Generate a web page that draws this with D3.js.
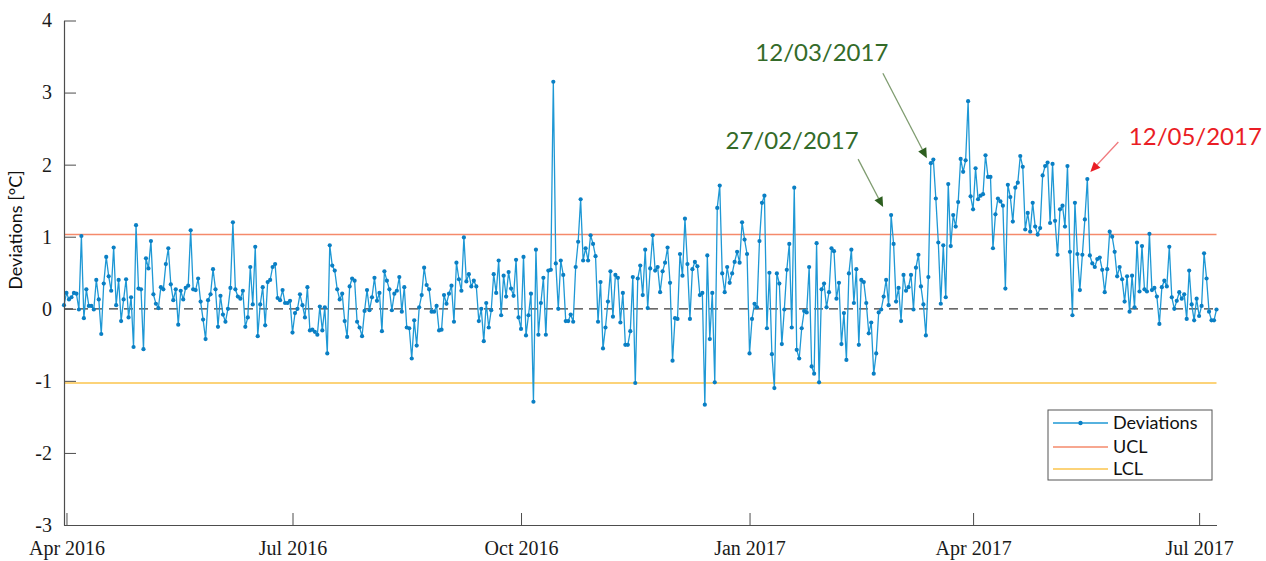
<!DOCTYPE html>
<html>
<head>
<meta charset="utf-8">
<script src="https://cdn.jsdelivr.net/npm/d3@7"></script>
<style>
  body { margin: 0; background: #fff; }
  #chart svg { display: block; }
</style>
</head>
<body>
<div id="chart"></div>
<script>
// daily deviations, first value on 31 Mar 2016
const startDate = new Date(2016, 2, 31);

const seg1 = [
  0.05,0.22,0.13,0.16,0.22,0.21,-0.01,1.01,-0.13,0.27,
  0.04,0.04,-0.01,0.4,0.13,-0.35,0.35,0.72,0.45,0.25,
  0.85,0.05,0.4,-0.17,0.13,0.41,-0.12,0.16,-0.53,1.16,
  0.28,0.27,-0.56,0.7,0.56,0.94,0.2,0.07,0.01,0.3,
  0.27,0.62,0.84,0.34,0.12,0.27,-0.22,0.25,0.13,0.29,
  0.32,1.09,0.27,0.26,0.42,0.1,-0.15,-0.42,0.12,0.2,
  0.55,0.27,-0.25,0.18,-0.08,-0.18,0.0,0.29,1.2,0.27,
  0.17,0.14,0.25,-0.25,-0.12,0.58,0.06,0.86,-0.38,0.06,
  0.3,-0.23,0.37,0.4,0.58,0.62,0.15,0.12,0.26,0.08,
  0.08,0.11,-0.33,-0.06,0.0,0.2,0.05,-0.12,0.3,-0.3,
  -0.29,-0.32,-0.36,0.03,-0.3,0.02,-0.62,0.88,0.6,0.53,
  0.27,0.13
];
const seg2 = [
  0.21,-0.17,-0.39,0.31,0.42,0.39,-0.18,-0.26,-0.38,-0.03,
  0.26,-0.02,0.16,0.43,0.11,0.22,-0.31,0.52,0.39,0.27,
  -0.02,0.21,0.25,0.44,-0.04,0.3,-0.26,-0.27,-0.69,-0.16,
  -0.51,0.02,0.19,0.57,0.33,0.27,-0.04,-0.04,0.04,-0.3,
  -0.29,0.19,0.07,0.21,0.32,-0.18,0.64,0.41,0.25,0.99,
  0.38,0.48,0.31,0.39,0.31,-0.17,0,-0.45,0.08,-0.26,
  -0.02,0.48,0.22,0.67,-0.09,0.46,0.17,0.51,0.28,0.18,
  0.68,-0.12,-0.28,0.72,-0.37,-0.09,0.21,-1.29
];
const seg3 = [
  0.82,-0.36,0.08,0.43,-0.36,0.53,0.54,3.15,0.63,0,
  0.67,0.47,-0.17,-0.17,-0.08,-0.18,0.58,0.93,1.52,0.67,
  0.84,0.67,1.02,0.9,0.73,-0.18,0.37,-0.55,-0.26,0.1,
  0.52,-0.11,0.47,0.43,-0.19,0.22,-0.5,-0.5,-0.31,0.44,
  -1.03,0.42,0.6,0.19,0.82,0.01,0.56,1.02,0.53,0.58,
  0.23,0.52,0.64,0.85,0.36,-0.72,-0.13,-0.14,0.76,0.46,
  1.25,0.62,-0.14,0.55,0.65,0.59,0.19,0.22,-1.33,0.74,
  -0.42,0.22,-1.02,1.4,1.71,0.49,0.23,0.58,0.36,0.49,
  0.65,0.79,0.64,1.2,0.96,0.76,-0.62,-0.14,0.07,0.02,
  0.94,1.47,1.57,-0.27,0.5,-0.63,-1.1,0.49,0.35,-0.49,
  -0.01,0.54,0.9,-0.26,1.68,-0.57,-0.69
];
const seg4 = [
  -0.27,-0.03,-0.05,0.58,-0.8,-0.9,0.91,-1.02,0.27,0.35,
  0.02,0.23,0.84,0.8,0.14,0.36,-0.49,-0.06,-0.71,0.49,
  0.82,0.08,0.55,-0.5,0.4,0.37,0.08,-0.34,-0.19,-0.9,
  -0.62,-0.05,-0.01,0.17,0.4,0.05,1.3,0.9,0.1,0.29,
  -0.17,0.47,0.25,0.3,0.47,-0.01,0.57,0.75,0.31,0.06,
  -0.37,0.44,2.02,2.07,1.53,0.92,0.07,0.88,0.16,1.73,
  0.87,1.3,1.14,1.48,2.08,1.9,2.06,2.88
];
const seg5 = [
  1.56,1.38,1.95,1.52,1.57,1.59,2.13,1.83,1.83,0.84,
  1.31,1.53,1.49,1.43,0.28,1.72,1.55,1.21,1.68,1.75,
  2.12,1.97,1.1,1.33,1.07,1.47,1.14,1.03,1.12,1.85,
  1.98,2.03,1.19,2.01,1.22,0.75,1.38,1.43,1.14,1.98,
  0.79,-0.09,1.47,0.76,0.26,0.75,1.24,1.8,0.74,0.63,
  0.58,0.69,0.71,0.54,0.23,0.55,1.07,1.0,0.79,0.45,
  0.58,0.41,0.1,0.45,-0.04,0.46,0.02,0.92,0.24,0.87,
  0.27,0.24,1.04,0.26,0.29,0.17,-0.21,0.3,0.39,0.31,
  0.86,0.16,0.0,0.11,0.23,0.14,0.2,-0.14,0.53,0.06,
  -0.16,0.14,-0.1,0.04,0.77,0.42,-0.04,-0.16,-0.16,-0.01
];

const deviations = seg1.concat(seg2, seg3, seg4, seg5);

const yTicks = [-3, -2, -1, 0, 1, 2, 3, 4];
const xTickDates = [
  new Date(2016, 3, 1), new Date(2016, 6, 1), new Date(2016, 9, 1),
  new Date(2017, 0, 1), new Date(2017, 3, 1), new Date(2017, 6, 1)
];
const limitNames = ["UCL", "LCL"];
const limitValues = [1.03, -1.03];
const limitColors = ["#f58a6b", "#fbc44c"];

// labelled days (index into deviations)
const annotLabels = ["27/02/2017", "12/03/2017", "12/05/2017"];
const annotDays = [333, 349, 412];
const annotColors = ["#346b29", "#346b29", "#ea1d25"];

const W = 1266, H = 561;
const svg = d3.select("#chart").append("svg")
  .attr("width", W).attr("height", H);

const x = d3.scaleTime()
  .domain([startDate, d3.timeDay.offset(startDate, deviations.length - 1)])
  .range([64, 1216.5]);
const y = d3.scaleLinear().domain([-3, 4]).range([525, 20.5]);

const pts = deviations.map((v, i) => ({ date: d3.timeDay.offset(startDate, i), v: v }));

// control limits
svg.append("g").selectAll("line").data(limitValues).enter()
  .append("line")
  .attr("x1", x.range()[0]).attr("x2", x.range()[1])
  .attr("y1", d => y(d)).attr("y2", d => y(d))
  .attr("stroke", (d, i) => limitColors[i])
  .attr("stroke-width", 1.6);

// zero line
svg.append("line")
  .attr("x1", x.range()[0]).attr("x2", x.range()[1])
  .attr("y1", y(0)).attr("y2", y(0))
  .attr("stroke", "#3a3a3a").attr("stroke-width", 1.2)
  .attr("stroke-dasharray", "9,6");

// series
const line = d3.line().x(d => x(d.date)).y(d => y(d.v));
svg.append("path").datum(pts)
  .attr("d", line)
  .attr("fill", "none")
  .attr("stroke", "#1e98d5")
  .attr("stroke-width", 1.3);
svg.append("g").selectAll("circle").data(pts).enter()
  .append("circle")
  .attr("cx", d => x(d.date)).attr("cy", d => y(d.v))
  .attr("r", 2.1).attr("fill", "#0a7fc4");

// axes, ticks pointing inward
const gx = svg.append("g").attr("transform", "translate(0," + y(-3) + ")")
  .call(d3.axisBottom(x).tickValues(xTickDates)
    .tickFormat(d3.timeFormat("%b %Y"))
    .tickSize(-12).tickSizeOuter(0).tickPadding(16));
const gy = svg.append("g").attr("transform", "translate(" + x.range()[0] + ",0)")
  .call(d3.axisLeft(y).tickValues(yTicks).tickFormat(d => String(d))
    .tickSize(-12).tickSizeOuter(0).tickPadding(12));
[gx, gy].forEach(g => {
  g.attr("font-family", "Liberation Serif").attr("font-size", 20);
  g.select(".domain").attr("stroke", "#4d4d4d").attr("stroke-width", 1.2);
  g.selectAll(".tick line").attr("stroke", "#4d4d4d");
  g.selectAll(".tick text").attr("fill", "#1a1a1a")
    .attr("font-family", "Liberation Serif").attr("font-size", 20);
});

svg.append("text")
  .attr("transform", "translate(22,230) rotate(-90)")
  .attr("text-anchor", "middle")
  .attr("font-family", "Lato")
  .attr("font-size", 18)
  .attr("fill", "#111")
  .text("Deviations [°C]");

// annotations: arrow tail / tip / text offsets from the marked point
const annotLayout = [
  { tail: [-33, -56], tip: [-8, -8], text: [-99, -66] },
  { tail: [-48, -90], tip: [-4, -5], text: [-109, -102] },
  { tail: [31, -37], tip: [3, -7], text: [108, -34] }
];
function arrow(g, x1, y1, x2, y2, lineColor, headColor) {
  const a = Math.atan2(y2 - y1, x2 - x1), L = 10, hw = 4.5;
  const bx = x2 - L * Math.cos(a), by = y2 - L * Math.sin(a);
  g.append("line").attr("x1", x1).attr("y1", y1).attr("x2", bx).attr("y2", by)
    .attr("stroke", lineColor).attr("stroke-width", 1.3);
  g.append("polygon")
    .attr("points", [[x2, y2],
      [bx + hw * Math.sin(a), by - hw * Math.cos(a)],
      [bx - hw * Math.sin(a), by + hw * Math.cos(a)]].map(p => p.join(",")).join(" "))
    .attr("fill", headColor);
}
const ga = svg.append("g");
annotDays.forEach((dd, i) => {
  const px = x(pts[dd].date), py = y(pts[dd].v), lay = annotLayout[i];
  const red = annotColors[i] === "#ea1d25";
  arrow(ga, px + lay.tail[0], py + lay.tail[1], px + lay.tip[0], py + lay.tip[1],
    red ? "#f07a7e" : "#7f9c70", red ? "#ea1d25" : "#2d5e1f");
  ga.append("text")
    .attr("x", px + lay.text[0]).attr("y", py + lay.text[1])
    .attr("text-anchor", "middle")
    .attr("font-family", "Lato")
    .attr("font-size", 24)
    .attr("fill", annotColors[i])
    .text(annotLabels[i]);
});

// legend
const lg = svg.append("g").attr("transform", "translate(1048,410)");
lg.append("rect").attr("width", 164).attr("height", 70)
  .attr("fill", "#fff").attr("stroke", "#555").attr("stroke-width", 1);
const legItems = [["Deviations", "#1e98d5"]].concat(limitNames.map((n, i) => [n, limitColors[i]]));
const legY = [13, 37, 59];
legItems.forEach((it, i) => {
  lg.append("line").attr("x1", 5).attr("x2", 60)
    .attr("y1", legY[i]).attr("y2", legY[i])
    .attr("stroke", it[1]).attr("stroke-width", 1.6);
  if (i === 0) lg.append("circle").attr("cx", 32.5).attr("cy", legY[i]).attr("r", 2.2).attr("fill", "#0a7fc4");
  lg.append("text").attr("x", 65).attr("y", legY[i]).attr("dy", "0.35em")
    .attr("font-family", "Lato").attr("font-size", 18)
    .attr("fill", "#111").text(it[0]);
});
</script>
</body>
</html>
